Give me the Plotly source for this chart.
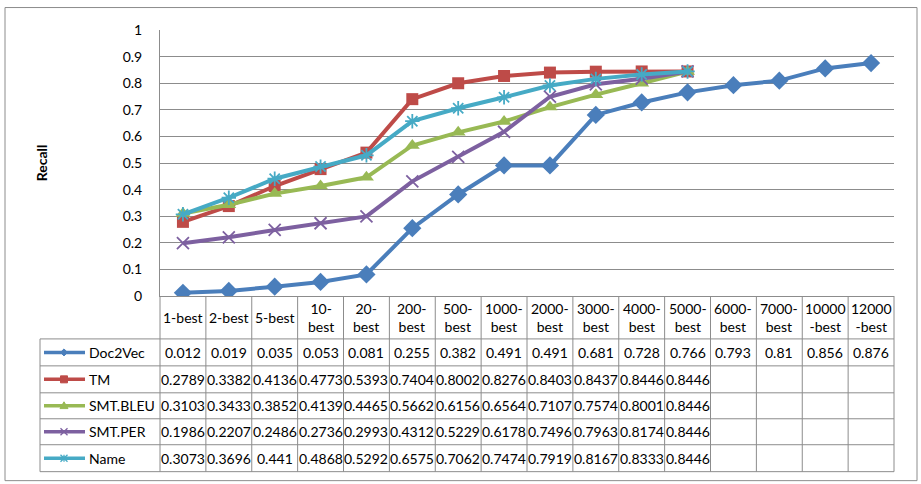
import plotly.graph_objects as go

categories = ["1-best", "2-best", "5-best", "10-best", "20-best", "200-best", "500-best",
              "1000-best", "2000-best", "3000-best", "4000-best", "5000-best",
              "6000-best", "7000-best", "10000-best", "12000-best"]
header_labels = ["1-best", "2-best", "5-best", "10-<br>best", "20-<br>best", "200-<br>best", "500-<br>best",
                 "1000-<br>best", "2000-<br>best", "3000-<br>best", "4000-<br>best", "5000-<br>best",
                 "6000-<br>best", "7000-<br>best", "10000<br>-best", "12000<br>-best"]
y_ticks = [0, 0.1, 0.2, 0.3, 0.4, 0.5, 0.6, 0.7, 0.8, 0.9, 1]
y_tick_text = ["0", "0.1", "0.2", "0.3", "0.4", "0.5", "0.6", "0.7", "0.8", "0.9", "1"]

doc2vec = [0.012, 0.019, 0.035, 0.053, 0.081, 0.255, 0.382, 0.491, 0.491, 0.681, 0.728, 0.766,
           0.793, 0.81, 0.856, 0.876]
tm = [0.2789, 0.3382, 0.4136, 0.4773, 0.5393, 0.7404, 0.8002, 0.8276, 0.8403, 0.8437, 0.8446, 0.8446]
smt_bleu = [0.3103, 0.3433, 0.3852, 0.4139, 0.4465, 0.5662, 0.6156, 0.6564, 0.7107, 0.7574, 0.8001, 0.8446]
smt_per = [0.1986, 0.2207, 0.2486, 0.2736, 0.2993, 0.4312, 0.5229, 0.6178, 0.7496, 0.7963, 0.8174, 0.8446]
name = [0.3073, 0.3696, 0.441, 0.4868, 0.5292, 0.6575, 0.7062, 0.7474, 0.7919, 0.8167, 0.8333, 0.8446]

series = [
    ("Doc2Vec", doc2vec, "#4A7EBB", dict(symbol="diamond", size=14)),
    ("TM", tm, "#BE4B48", dict(symbol="square", size=12)),
    ("SMT.BLEU", smt_bleu, "#98B954", dict(symbol="triangle-up", size=13)),
    ("SMT.PER", smt_per, "#7D60A0", dict(symbol="x-thin-open", size=12, line=dict(width=1.8))),
    ("Name", name, "#46AAC5", dict(symbol="asterisk-open", size=12, line=dict(width=1.8))),
]

W, H = 921, 484
L, R, T, B = 160, 894, 29.5, 296
N = len(categories)
CW = (R - L) / N
FONT = "Lato, Open Sans, sans-serif"
GRID = "#8c8c8c"
FS = 14


def px_x(p):
    return (p - L) / (R - L)


def px_y(p):
    return (B - p) / (B - T)


def poly(points):
    return "M " + " L ".join(f"{px_x(a):.5f},{px_y(b):.5f}" for a, b in points) + " Z"


def segs(pairs):
    return " ".join(f"M {px_x(a):.5f},{px_y(b):.5f} L {px_x(c):.5f},{px_y(d):.5f}" for (a, b), (c, d) in pairs)


def legend_marker(sym, cx, cy, col):
    if sym == "diamond":
        s = 3.5
        return dict(type="path", xref="paper", yref="paper",
                    path=poly([(cx, cy - s), (cx + s, cy), (cx, cy + s), (cx - s, cy)]),
                    fillcolor=col, line=dict(color=col, width=1))
    if sym == "square":
        s = 3.5
        return dict(type="path", xref="paper", yref="paper",
                    path=poly([(cx - s, cy - s), (cx + s, cy - s), (cx + s, cy + s), (cx - s, cy + s)]),
                    fillcolor=col, line=dict(color=col, width=1))
    if sym == "triangle-up":
        s = 4
        return dict(type="path", xref="paper", yref="paper",
                    path=poly([(cx, cy - s), (cx + s, cy + s * 0.7), (cx - s, cy + s * 0.7)]),
                    fillcolor=col, line=dict(color=col, width=1))
    if sym == "x-thin-open":
        s = 3.5
        return dict(type="path", xref="paper", yref="paper",
                    path=segs([((cx - s, cy - s), (cx + s, cy + s)), ((cx - s, cy + s), (cx + s, cy - s))]),
                    line=dict(color=col, width=1.3))
    s = 3.5
    return dict(type="path", xref="paper", yref="paper",
                path=segs([((cx - s, cy - s), (cx + s, cy + s)), ((cx - s, cy + s), (cx + s, cy - s)),
                           ((cx, cy - s), (cx, cy + s))]),
                line=dict(color=col, width=1.3))


fig = go.Figure()
for nm, vals, col, mk in series:
    m = dict(mk)
    m["color"] = col
    if "line" in m:
        m["line"] = dict(width=m["line"]["width"], color=col)
    fig.add_trace(go.Scatter(x=list(range(len(vals))), y=vals, mode="lines+markers", name=nm,
                             line=dict(color=col, width=4), marker=m, showlegend=False))

shapes = []
annotations = []

# outer border
shapes.append(dict(type="rect", xref="paper", yref="paper", x0=px_x(5), x1=px_x(917),
                   y0=px_y(481), y1=px_y(7), line=dict(color=GRID, width=1)))

# table geometry
row_edges = [339, 366, 393, 419, 445, 472]
for yy in row_edges:
    shapes.append(dict(type="line", xref="paper", yref="paper", x0=px_x(40), x1=px_x(R),
                       y0=px_y(yy), y1=px_y(yy), line=dict(color=GRID, width=1)))
shapes.append(dict(type="line", xref="paper", yref="paper", x0=px_x(40), x1=px_x(40),
                   y0=px_y(339), y1=px_y(472), line=dict(color=GRID, width=1)))
for i in range(N + 1):
    xx = L + i * CW
    shapes.append(dict(type="line", xref="paper", yref="paper", x0=px_x(xx), x1=px_x(xx),
                       y0=px_y(B), y1=px_y(472), line=dict(color=GRID, width=1)))

# header labels
for i, lab in enumerate(header_labels):
    annotations.append(dict(xref="paper", yref="paper", x=px_x(L + (i + 0.5) * CW), y=px_y(317.5),
                            text=lab, showarrow=False, font=dict(size=FS, color="#000", family=FONT),
                            xanchor="center", yanchor="middle"))

# data rows
for r, (nm, vals, col, mk) in enumerate(series):
    yc = (row_edges[r] + row_edges[r + 1]) / 2
    for i, v in enumerate(vals):
        annotations.append(dict(xref="paper", yref="paper", x=px_x(L + (i + 0.5) * CW), y=px_y(yc),
                                text=f"{v:g}", showarrow=False,
                                font=dict(size=FS, color="#000", family=FONT),
                                xanchor="center", yanchor="middle"))
    annotations.append(dict(xref="paper", yref="paper", x=px_x(87), y=px_y(yc), text=nm,
                            showarrow=False, font=dict(size=FS, color="#000", family=FONT),
                            xanchor="left", yanchor="middle"))
    shapes.append(dict(type="line", xref="paper", yref="paper", x0=px_x(44), x1=px_x(85),
                       y0=px_y(yc), y1=px_y(yc), line=dict(color=col, width=3.5)))
    shapes.append(legend_marker(mk["symbol"], 64, yc, col))

annotations.append(dict(xref="paper", yref="paper", x=px_x(41), y=px_y(163), text="<b>Recall</b>",
                        textangle=-90, showarrow=False, font=dict(size=14, color="#000", family=FONT),
                        xanchor="center", yanchor="middle"))

fig.update_layout(
    width=W, height=H,
    margin=dict(l=L, r=W - R, t=T, b=H - B, pad=0),
    paper_bgcolor="white", plot_bgcolor="white",
    shapes=shapes, annotations=annotations,
    xaxis=dict(range=[-0.5, N - 0.5], showgrid=False, showticklabels=False, zeroline=False,
               showline=True, linecolor=GRID, linewidth=1, ticks=""),
    yaxis=dict(range=[0, 1.0005], tickvals=y_ticks, ticktext=y_tick_text,
               showgrid=True, gridcolor=GRID, gridwidth=1, zeroline=False,
               showline=True, linecolor=GRID, linewidth=1, ticks="", ticklabelstandoff=14,
               tickfont=dict(size=14, color="#000", family=FONT)),
)

fig.write_html("out.html")
